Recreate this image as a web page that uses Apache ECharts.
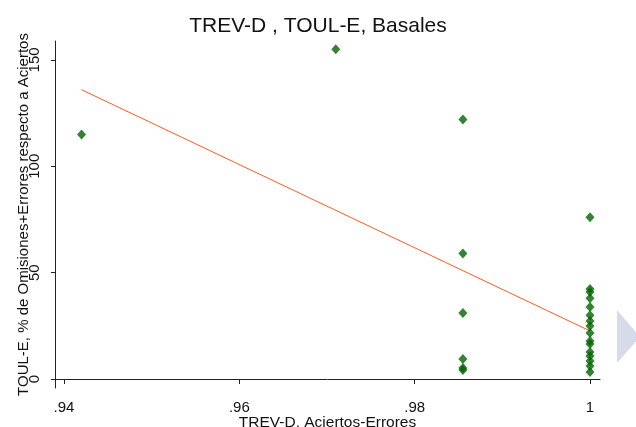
<!DOCTYPE html>
<html><head><meta charset="utf-8">
<script src="https://cdn.jsdelivr.net/npm/echarts@6/dist/echarts.min.js"></script>
<style>html,body{margin:0;padding:0;background:#fff}#c{width:636px;height:427px}</style>
</head><body><div id="c"></div>
<script>
const titleText = 'TREV-D , TOUL-E, Basales';
const xName = 'TREV-D. Aciertos-Errores';
const yName = 'TOUL-E, % de Omisiones+Errores respecto a Aciertos';
const xTicks = [0.94, 0.96, 0.98, 1];
const xTickLabels = ['.94', '.96', '.98', '1'];
const yTicks = [0, 50, 100, 150];
const xVals = [0.942, 0.971, 0.9855, 0.9855, 0.9855, 0.9855, 0.9855, 0.9855,
  1, 1, 1, 1, 1, 1, 1, 1, 1, 1, 1, 1, 1, 1, 1, 1];
const yVals = [115, 155, 122, 59, 31, 9.4, 5.2, 4.2,
  76, 42.3, 40.9, 38, 33.9, 30, 27.3, 24.9, 21.6, 17.9, 16.5, 12.7, 10.8, 8.5, 6.1, 3.3];
const fitX = [0.942, 1];
const fitY = [136, 22.6];

const font = 'Liberation Sans, Arial, sans-serif';
const chart = echarts.init(document.getElementById('c'), null, {renderer: 'canvas'});
chart.setOption({
  animation: false,
  backgroundColor: '#fff',
  title: {text: titleText, left: 'center', top: 11,
    textStyle: {fontFamily: font, fontSize: 21, fontWeight: 'normal', color: '#111'}},
  grid: {left: 55, right: 36, top: 41, bottom: 39, outerBoundsMode: 'none', containLabel: false},
  xAxis: {
    type: 'value', min: 0.93897, max: 1.00114,
    name: xName, nameLocation: 'middle', nameGap: 27, nameMoveOverlap: false,
    nameTextStyle: {fontFamily: font, fontSize: 15.5, color: '#111'},
    axisLine: {show: true, lineStyle: {color: '#222', width: 1}},
    axisTick: {show: true, length: 5, inside: false, customValues: xTicks, lineStyle: {color: '#222'}},
    axisLabel: {customValues: xTicks, fontFamily: font, fontSize: 15, color: '#111', margin: 12,
      formatter: v => xTickLabels[xTicks.findIndex(t => Math.abs(t - v) < 1e-9)] || ''},
    splitLine: {show: false}
  },
  yAxis: {
    type: 'value', min: -4.23, max: 158.9,
    name: yName, nameLocation: 'middle', nameGap: 24, nameMoveOverlap: false,
    nameTextStyle: {fontFamily: font, fontSize: 15, color: '#111'},
    axisLine: {show: true, lineStyle: {color: '#222', width: 1}},
    axisTick: {show: true, length: 4, customValues: yTicks, lineStyle: {color: '#222'}},
    axisLabel: {customValues: yTicks, rotate: 90, fontFamily: font, fontSize: 15, color: '#111', margin: 13},
    splitLine: {show: false}
  },
  series: [
    {type: 'line', data: fitX.map((x, i) => [x, fitY[i]]), symbol: 'none',
      lineStyle: {color: '#ff5a1e', width: 1}, z: 2},
    {type: 'scatter', data: xVals.map((x, i) => [x, yVals[i]]), symbol: 'diamond',
      symbolSize: [9, 10], itemStyle: {color: '#006400'}, z: 3}
  ],
  graphic: [{type: 'polygon', shape: {points: [[617, 310], [640, 337], [617, 363]]},
    style: {fill: '#d7dae8'}}]
});
</script></body></html>
